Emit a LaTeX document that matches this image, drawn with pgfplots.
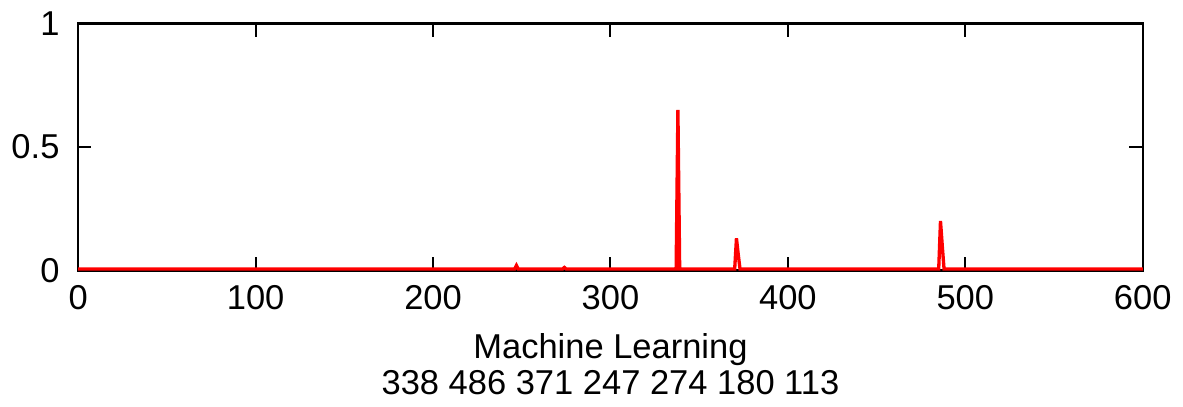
\documentclass[border=0pt]{standalone}
\usepackage{fontspec}
\setmainfont{Liberation Sans}
\usepackage{pgfplots}
\pgfplotsset{compat=1.18}

\begin{document}
\fontsize{10.4}{12.5}\selectfont
\begin{tikzpicture}
\begin{axis}[
    scale only axis,
    width=321pt, height=74.5pt,
    xmin=0, xmax=600, ymin=0, ymax=1,
    xtick={0,100,...,600},
    ytick={0,0.5,1},
    tick align=inside,
    major tick length=4pt,
    tick style={black, line width=0.6pt},
    axis line style={black, line width=0.7pt},
    /pgf/number format/assume math mode=true,
    tick label style={font=\fontsize{10.4}{12.5}\selectfont},
    yticklabel style={xshift=-2pt},
    xticklabel style={yshift=-1pt},
    xlabel style={font=\fontsize{10.4}{10.8}\selectfont, align=center, yshift=0pt},
    xlabel={Machine Learning\\338 486 371 247 274 180 113},
]
\addplot[red, line width=1pt, mark=none] coordinates {
    (0,0.006) (246,0.006) (247,0.02) (248,0.006)
    (273,0.006) (274,0.012) (275,0.006)
    (337,0.006) (338,0.65) (339,0.006)
    (370,0.006) (371,0.13) (372,0.065) (373,0.006)
    (485,0.006) (486,0.2) (487,0.1) (488,0.006)
    (600,0.006) };
\end{axis}
\end{tikzpicture}
\end{document}
